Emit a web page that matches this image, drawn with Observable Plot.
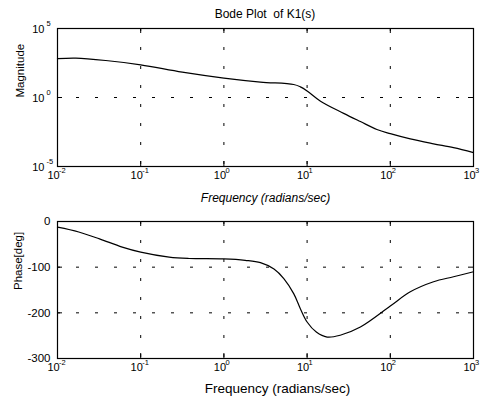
<!DOCTYPE html>
<html><head><meta charset="utf-8">
<script src="https://cdn.jsdelivr.net/npm/d3@7"></script>
<script src="https://cdn.jsdelivr.net/npm/@observablehq/plot@0.6"></script>
<style>
html,body{margin:0;padding:0;background:#fff}
body{width:486px;height:398px;position:relative;overflow:hidden;font-family:"Liberation Sans",Arial,Helvetica,sans-serif;color:#000}
#title{position:absolute;left:0;top:7px;width:530px;text-align:center;font-size:12px;white-space:pre}
#p1{position:absolute;left:0;top:0}
#p2{position:absolute;left:0;top:200px}
svg{overflow:visible}
</style></head><body>
<div id="p1"></div>
<div id="p2"></div>
<div id="title">Bode Plot  of K1(s)</div>
<script>
// Magnitude curve (frequency rad/s, |K1|)
const magFreq = [0.01, 0.0166, 0.038, 0.1, 0.316, 1, 2.75, 6.9, 8.3, 10, 14.5, 27.5, 43.7, 69, 100, 174, 331, 575, 1000];
const magValue = [646, 708, 479, 234, 69, 25.7, 13.2, 8.7, 5.9, 3.0, 0.54, 0.071, 0.018, 0.0048, 0.0024, 0.001, 0.00044, 0.00023, 0.0001];
// Phase curve (frequency rad/s, degrees)
const phaseFreq = [0.01, 0.018, 0.032, 0.06, 0.1, 0.22, 0.38, 1, 1.8, 2.75, 4, 5.25, 6.9, 8.3, 10, 12.9, 17.4, 25, 43.7, 100, 174, 331, 575, 1000];
const phaseValue = [-12.5, -23, -38, -56, -67, -78, -81, -82, -85, -90, -104, -125, -158, -191, -220, -242, -253, -249, -231, -185, -154, -132, -121, -110];
// Ticks
const freqTicks = [0.01, 0.1, 1, 10, 100, 1000];
const freqExp = ["-2", "-1", "0", "1", "2", "3"];
const magTicks = [1e-5, 1, 1e5];
const magExp = ["-5", "0", "5"];
const phaseTicks = [-300, -200, -100, 0];
const title = "Bode Plot  of K1(s)";
const xLabel = "Frequency (radians/sec)";
const magLabel = "Magnitude";
const phaseLabel = "Phase[deg]";

const magData = magFreq.map((f, i) => ({f, v: magValue[i]}));
const phaseData = phaseFreq.map((f, i) => ({f, v: phaseValue[i]}));
const freqTickData = freqTicks.map((t, i) => ({t, e: freqExp[i]}));
const magTickData = magTicks.map((t, i) => ({t, e: magExp[i]}));
const innerGrid = [0.1, 1, 10, 100];
const dots = "3,16";
const font = "'Liberation Sans', Arial, Helvetica, sans-serif";

const W = 486, ML = 57, MR = 13;
const innerW = W - ML - MR;

function xTickLabels() {
  return [
    Plot.text(freqTickData, {x: "t", frameAnchor: "bottom", dy: 12, dx: -4, text: () => "10", textAnchor: "middle", fontSize: 11, fill: "#000"}),
    Plot.text(freqTickData, {x: "t", frameAnchor: "bottom", dy: 6, dx: 1.5, text: "e", textAnchor: "start", fontSize: 7.5, fill: "#000"})
  ];
}
function xTicks(innerH) {
  return [
    Plot.tickX(freqTicks, {x: d => d, insetTop: innerH - 5, stroke: "#000"}),
    Plot.tickX(freqTicks, {x: d => d, insetBottom: innerH - 5, stroke: "#000"})
  ];
}

// Magnitude plot
const H1 = 210, MT1 = 28, MB1 = 44;
const innerH1 = H1 - MT1 - MB1;
const p1 = Plot.plot({
  width: W, height: H1, marginLeft: ML, marginRight: MR, marginTop: MT1, marginBottom: MB1,
  style: {background: "transparent", fontFamily: font, overflow: "visible"},
  x: {type: "log", domain: [0.01, 1000], axis: null},
  y: {type: "log", domain: [1e-5, 1e5], axis: null},
  marks: [
    Plot.ruleX(innerGrid, {x: d => d, stroke: "#000", strokeDasharray: dots, strokeWidth: 1}),
    Plot.ruleY([1], {y: d => d, stroke: "#000", strokeDasharray: dots, strokeWidth: 1}),
    ...xTicks(innerH1),
    Plot.tickY(magTicks, {y: d => d, insetRight: innerW - 5, stroke: "#000"}),
    Plot.tickY(magTicks, {y: d => d, insetLeft: innerW - 5, stroke: "#000"}),
    Plot.frame({stroke: "#000", strokeWidth: 1.2}),
    Plot.line(magData, {x: "f", y: "v", stroke: "#000", strokeWidth: 1.2, curve: "catmull-rom"}),
    ...xTickLabels(),
    Plot.text(magTickData, {y: "t", frameAnchor: "left", dx: -13, dy: 1, text: () => "10", textAnchor: "end", fontSize: 11, fill: "#000"}),
    Plot.text(magTickData, {y: "t", frameAnchor: "left", dx: -11, dy: -5, text: "e", textAnchor: "start", fontSize: 7.5, fill: "#000"}),
    Plot.text([magLabel], {frameAnchor: "left", dx: -37, rotate: -90, text: d => d, fontSize: 11.5, fill: "#000"}),
    Plot.text([xLabel], {frameAnchor: "bottom", dy: 35, text: d => d, fontSize: 12, fontStyle: "italic", fill: "#000"})
  ]
});
document.getElementById("p1").appendChild(p1);

// Phase plot
const H2 = 198, MT2 = 21, MB2 = 40;
const innerH2 = H2 - MT2 - MB2;
const p2 = Plot.plot({
  width: W, height: H2, marginLeft: ML, marginRight: MR, marginTop: MT2, marginBottom: MB2,
  style: {background: "transparent", fontFamily: font, overflow: "visible"},
  x: {type: "log", domain: [0.01, 1000], axis: null},
  y: {type: "linear", domain: [-300, 0], axis: null},
  marks: [
    Plot.ruleX(innerGrid, {x: d => d, stroke: "#000", strokeDasharray: dots, strokeWidth: 1}),
    Plot.ruleY([-200, -100], {y: d => d, stroke: "#000", strokeDasharray: dots, strokeWidth: 1}),
    ...xTicks(innerH2),
    Plot.tickY(phaseTicks, {y: d => d, insetRight: innerW - 5, stroke: "#000"}),
    Plot.tickY(phaseTicks, {y: d => d, insetLeft: innerW - 5, stroke: "#000"}),
    Plot.frame({stroke: "#000", strokeWidth: 1.2}),
    Plot.line(phaseData, {x: "f", y: "v", stroke: "#000", strokeWidth: 1.2, curve: "catmull-rom"}),
    ...xTickLabels(),
    Plot.text(phaseTicks, {y: d => d, frameAnchor: "left", dx: -7, text: d => String(d), textAnchor: "end", fontSize: 11.5, fill: "#000"}),
    Plot.text([phaseLabel], {frameAnchor: "left", dx: -39, rotate: -90, text: d => d, fontSize: 11.5, fill: "#000"}),
    Plot.text([xLabel], {frameAnchor: "bottom", dy: 34, dx: 12, text: d => d, fontSize: 13.5, fill: "#000"})
  ]
});
document.getElementById("p2").appendChild(p2);
</script>
</body></html>
